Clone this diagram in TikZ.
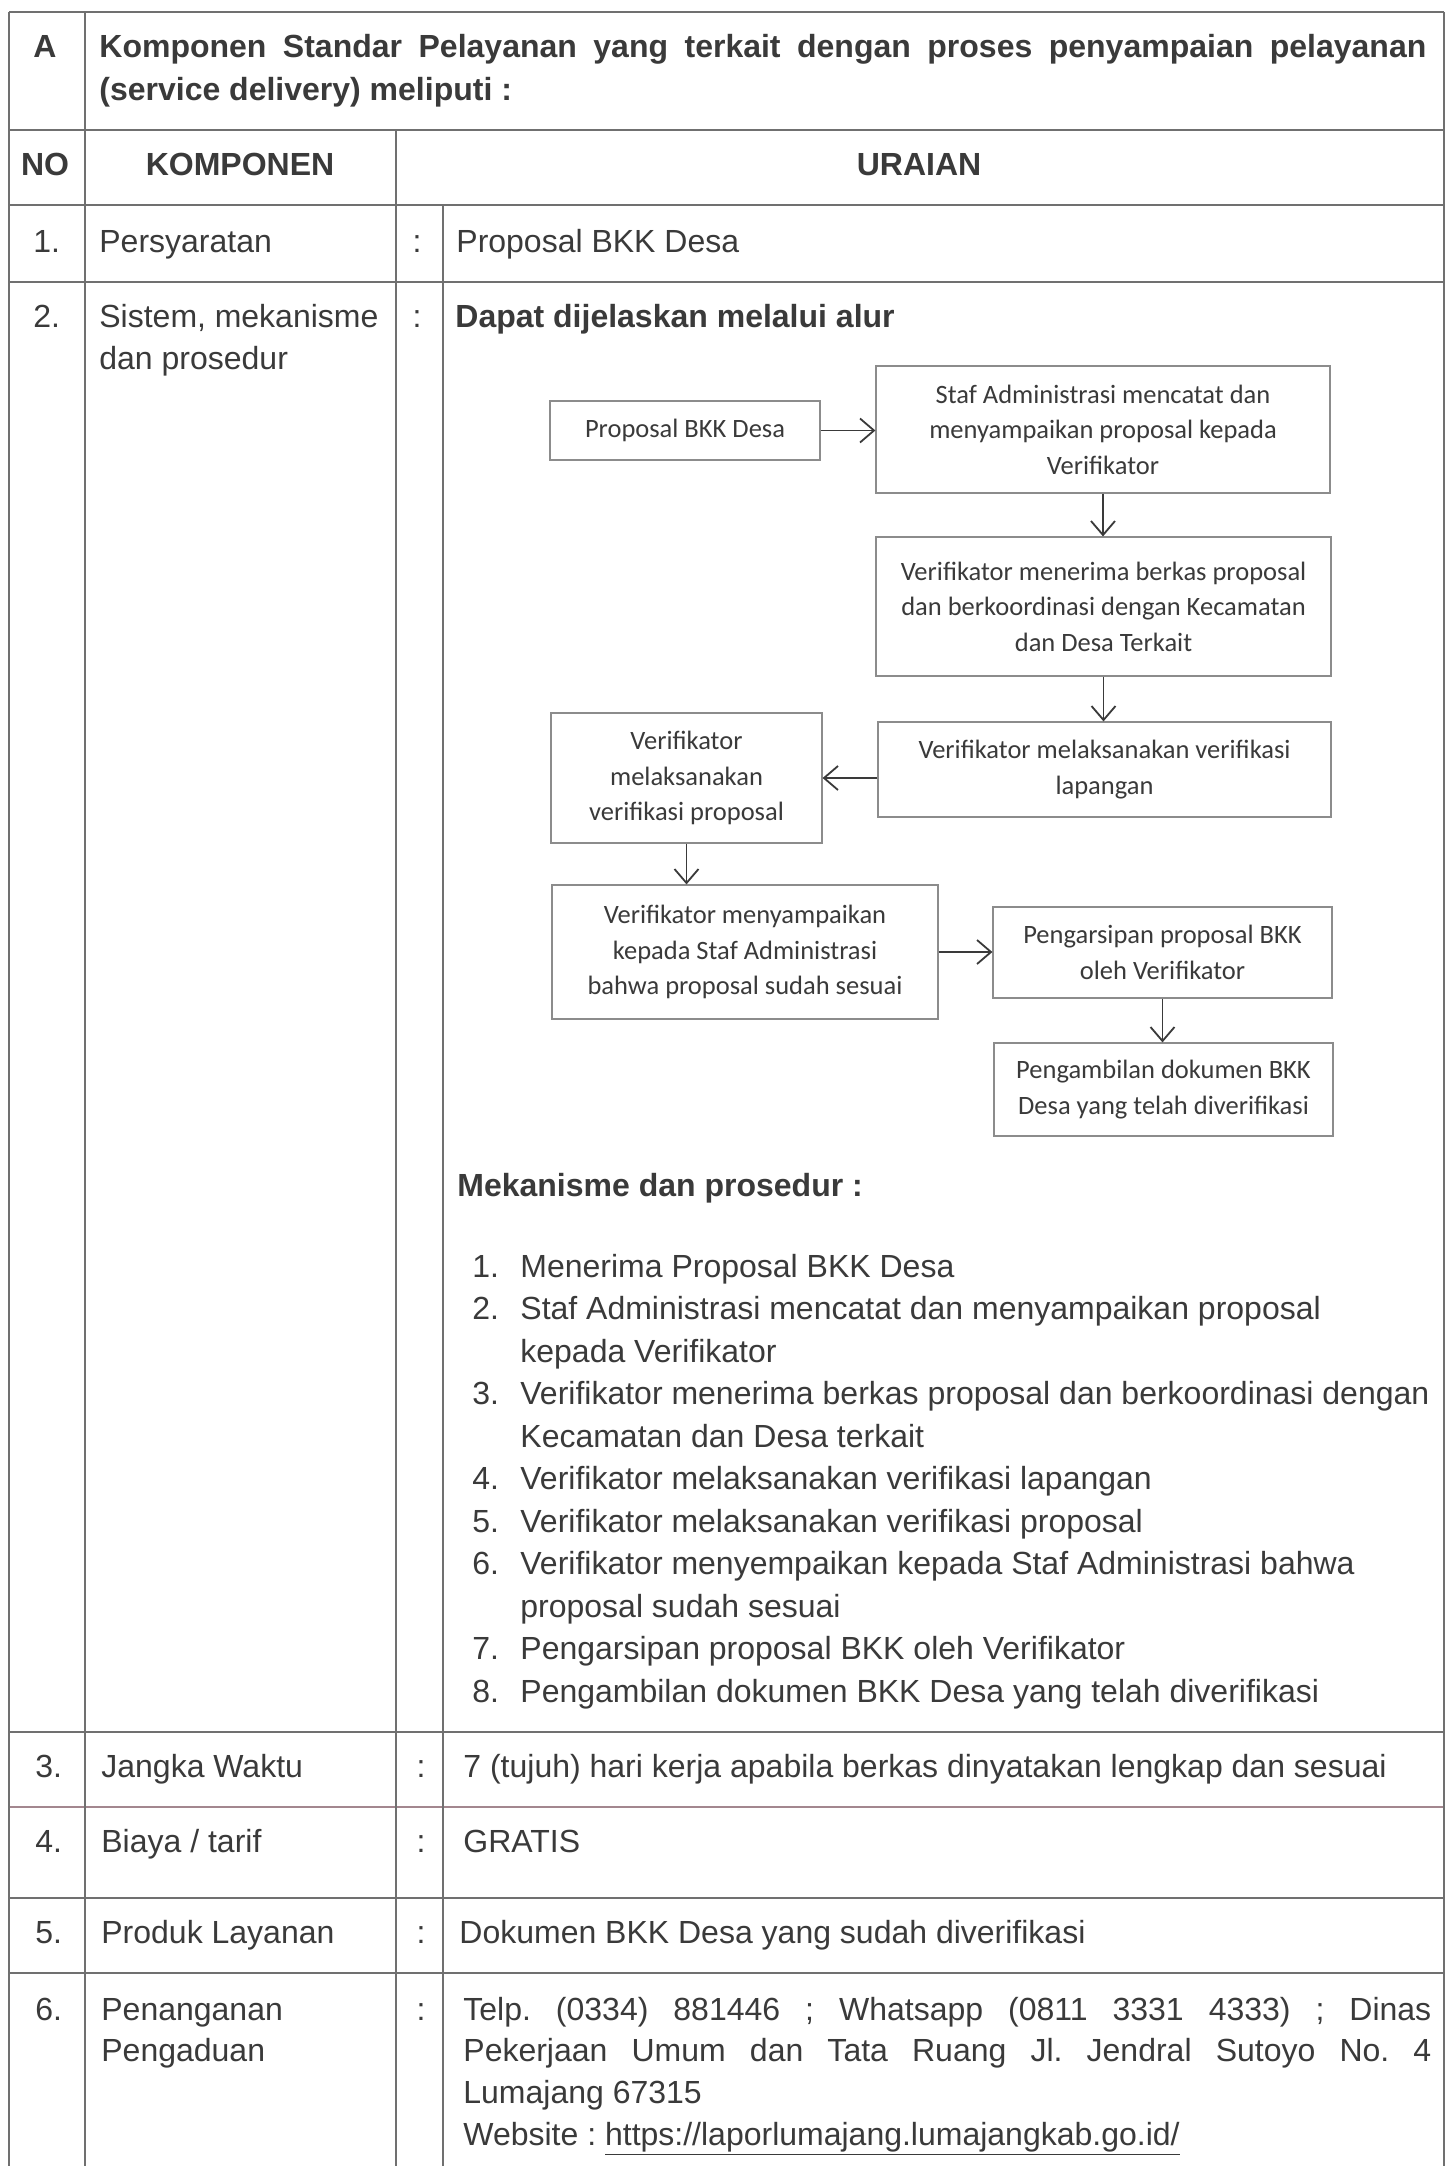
\documentclass[tikz,border=0pt]{standalone}
\usepackage{fontspec}
\setmainfont{Liberation Sans}
\newfontfamily\boxfont{Carlito}
\usetikzlibrary{arrows.meta}
\definecolor{ink}{HTML}{3A3A3A}
\definecolor{rule}{HTML}{707070}
\definecolor{rulepink}{HTML}{A3878F}
\definecolor{boxline}{HTML}{8C8C8C}
\frenchspacing

\begin{document}
\begin{tikzpicture}[x=0.5pt,y=-0.5pt,
	txt/.style={anchor=base west,inner sep=0pt,text=ink,font=\fontsize{16}{20}\selectfont},
	mid/.style={anchor=base,inner sep=0pt,text=ink,font=\fontsize{16}{20}\selectfont},
	head/.style={mid,font=\fontsize{16}{20}\selectfont\bfseries},
	flow/.style={draw=boxline,line width=0.6pt,align=center,inner sep=0pt,text=ink,
		font=\boxfont\fontsize{13.25}{17.75}\selectfont},
	grid/.style={draw=rule,line width=0.8pt},
	>={Straight Barb[length=7pt,width=12pt]}]
	\useasboundingbox (0,0) rectangle (1449,2166);
	\fill[white] (0,0) rectangle (1449,2166);

	% table rules
	\draw[grid] (9,12) -- (1444,12);
	\draw[grid] (9,130) -- (1444,130);
	\draw[grid] (9,205) -- (1444,205);
	\draw[grid] (9,282) -- (1444,282);
	\draw[grid] (9,1732) -- (1444,1732);
	\draw[grid,draw=rulepink] (9,1807) -- (1444,1807);
	\draw[grid] (9,1898) -- (1444,1898);
	\draw[grid] (9,1973) -- (1444,1973);
	\draw[grid] (9,12) -- (9,2166);
	\draw[grid] (85,12) -- (85,2166);
	\draw[grid] (396,130) -- (396,2166);
	\draw[grid] (443,205) -- (443,2166);
	\draw[grid] (1444,12) -- (1444,2166);

	% heading A
	\node (a) [head] at (45,58) {A};
	\node (hd1) [txt,font=\fontsize{16}{20}\selectfont\bfseries] at (99,58)
		{\makebox[663.5pt][s]{Komponen Standar Pelayanan yang terkait dengan proses penyampaian pelayanan}};
	\node (hd2) [txt,font=\fontsize{16}{20}\selectfont\bfseries] at (99,101) {(service delivery) meliputi :};

	% column heads
	\node (no) [head] at (45,176) {NO};
	\node (komp) [head] at (240,176) {KOMPONEN};
	\node (urai) [head] at (919,176) {URAIAN};

	% row 1
	\node (n1) [txt] at (33,253) {1.};
	\node (k1) [txt] at (99,253) {Persyaratan};
	\node (c1) [mid] at (417,253) {:};
	\node (u1) [txt] at (456,253) {Proposal BKK Desa};

	% row 2
	\node (n2) [txt] at (33,328) {2.};
	\node (k2) [txt] at (99,328) {\makebox[139.5pt][s]{Sistem, mekanisme}};
	\node (k2b) [txt] at (99,370) {dan prosedur};
	\node (c2) [mid] at (417,328) {:};
	\node (u2) [txt,font=\fontsize{16}{20}\selectfont\bfseries] at (455,328) {Dapat dijelaskan melalui alur};

	% flow
	\node (prop) [flow,minimum width=135pt,minimum height=29.5pt] at (685,430.5) {Proposal BKK Desa};
	\node (staf) [flow,minimum width=227pt,minimum height=63.5pt] at (1103,429.5)
		{Staf Administrasi mencatat dan\\menyampaikan proposal kepada\\Verifikator};
	\node (terima) [flow,minimum width=227.5pt,minimum height=69.5pt] at (1103.5,606.5)
		{Verifikator menerima berkas proposal\\dan berkoordinasi dengan Kecamatan\\dan Desa Terkait};
	\node (lap) [flow,minimum width=226.5pt,minimum height=47.5pt] at (1104.5,769.5)
		{Verifikator melaksanakan verifikasi\\lapangan};
	\node (vprop) [flow,minimum width=135.5pt,minimum height=65pt] at (686.5,778)
		{Verifikator\\melaksanakan\\verifikasi proposal};
	\node (sampai) [flow,minimum width=193pt,minimum height=67pt] at (745,952)
		{Verifikator menyampaikan\\kepada Staf Administrasi\\bahwa proposal sudah sesuai};
	\node (arsip) [flow,minimum width=169.5pt,minimum height=45.5pt] at (1162.5,952.5)
		{Pengarsipan proposal BKK\\oleh Verifikator};
	\node (ambil) [flow,minimum width=169.5pt,minimum height=46.5pt] at (1163.5,1089.5)
		{Pengambilan dokumen BKK\\Desa yang telah diverifikasi};

	\begin{scope}[line width=0.9pt,draw=ink]
	\draw[->] (prop.east) -- (prop.east -| staf.west);
	\draw[->] (staf.south) -- (staf.south |- terima.north);
	\draw[->] (terima.south) -- (terima.south |- lap.north);
	\draw[->] (lap.west |- vprop.east) -- (vprop.east);
	\draw[->] (vprop.south) -- (vprop.south |- sampai.north);
	\draw[->] (sampai.east) -- (sampai.east -| arsip.west);
	\draw[->] (arsip.south) -- (arsip.south |- ambil.north);
	\end{scope}

	% mekanisme list
	\node (mek) [txt,font=\fontsize{16}{20}\selectfont\bfseries] at (457,1196) {Mekanisme dan prosedur :};
	\node (it1) [txt] at (472,1277) {\makebox[24pt][l]{1.}Menerima Proposal BKK Desa};
	\node (it2) [txt] at (472,1319.5) {\makebox[24pt][l]{2.}Staf Administrasi mencatat dan menyampaikan proposal};
	\node (it2b) [txt] at (520,1362) {kepada Verifikator};
	\node (it3) [txt] at (472,1404.5) {\makebox[24pt][l]{3.}Verifikator menerima berkas proposal dan berkoordinasi dengan};
	\node (it3b) [txt] at (520,1447) {Kecamatan dan Desa terkait};
	\node (it4) [txt] at (472,1489.5) {\makebox[24pt][l]{4.}Verifikator melaksanakan verifikasi lapangan};
	\node (it5) [txt] at (472,1532) {\makebox[24pt][l]{5.}Verifikator melaksanakan verifikasi proposal};
	\node (it6) [txt] at (472,1574.5) {\makebox[24pt][l]{6.}Verifikator menyempaikan kepada Staf Administrasi bahwa};
	\node (it6b) [txt] at (520,1617) {proposal sudah sesuai};
	\node (it7) [txt] at (472,1659.5) {\makebox[24pt][l]{7.}Pengarsipan proposal BKK oleh Verifikator};
	\node (it8) [txt] at (472,1702) {\makebox[24pt][l]{8.}Pengambilan dokumen BKK Desa yang telah diverifikasi};

	% row 3
	\node (n3) [txt] at (35,1777) {3.};
	\node (k3) [txt] at (101,1777) {Jangka Waktu};
	\node (c3) [mid] at (421,1777) {:};
	\node (u3) [txt] at (463,1777) {7 (tujuh) hari kerja apabila berkas dinyatakan lengkap dan sesuai};

	% row 4
	\node (n4) [txt] at (35,1852) {4.};
	\node (k4) [txt] at (101,1852) {Biaya / tarif};
	\node (c4) [mid] at (421,1852) {:};
	\node (u4) [txt] at (463,1852) {GRATIS};

	% row 5
	\node (n5) [txt] at (35,1943) {5.};
	\node (k5) [txt] at (101,1943) {Produk Layanan};
	\node (c5) [mid] at (421,1943) {:};
	\node (u5) [txt] at (459,1943) {Dokumen BKK Desa yang sudah diverifikasi};

	% row 6
	\node (n6) [txt] at (35,2020) {6.};
	\node (k6) [txt] at (101,2020) {Penanganan};
	\node (k6b) [txt] at (101,2061) {Pengaduan};
	\node (c6) [mid] at (421,2020) {:};
	\node (u6) [txt] at (463,2020) {\makebox[484pt][s]{Telp. (0334) 881446 ; Whatsapp (0811 3331 4333) ; Dinas}};
	\node (u6b) [txt] at (463,2061) {\makebox[484pt][s]{Pekerjaan Umum dan Tata Ruang Jl. Jendral Sutoyo No. 4}};
	\node (u6c) [txt] at (463,2103) {Lumajang 67315};
	\node (u6d) [txt] at (463,2145) {Website : \underline{https://laporlumajang.lumajangkab.go.id/}};
\end{tikzpicture}
\end{document}
